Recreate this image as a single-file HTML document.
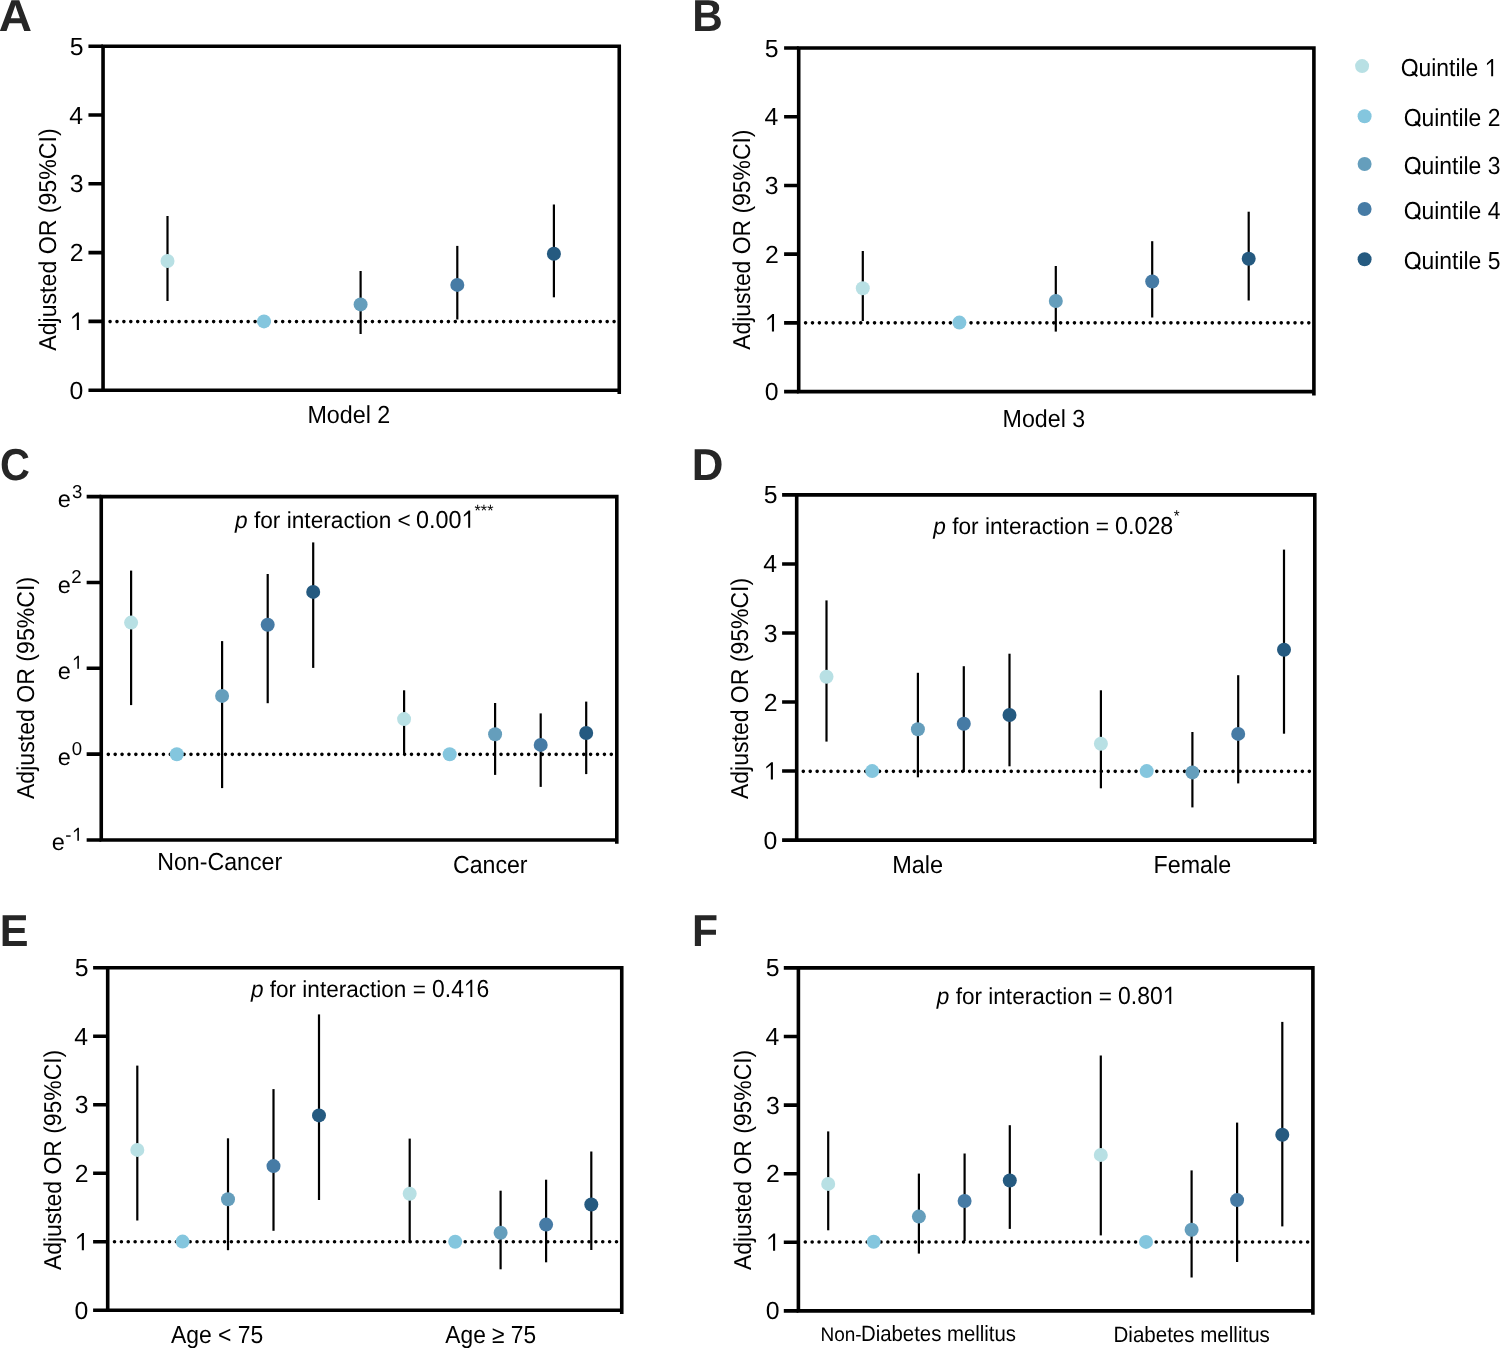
<!DOCTYPE html>
<html><head><meta charset="utf-8"><style>html,body{margin:0;padding:0;background:#fff;}svg{display:block;will-change:transform;text-rendering:geometricPrecision}</style></head>
<body><svg width="1500" height="1348" viewBox="0 0 1500 1348">
<rect width="1500" height="1348" fill="#fff"/>
<path d="M101.25 46.20H621.05M619.25 44.40V394.00M101.25 390.20H621.05M103.05 44.40V392.00" stroke="#000" stroke-width="3.6" fill="none"/>
<path d="M88.45 390.20H103.05M88.45 321.40H103.05M88.45 252.60H103.05M88.45 183.80H103.05M88.45 115.00H103.05M88.45 46.20H103.05" stroke="#000" stroke-width="3.6" fill="none"/>
<text x="69.58" y="398.73" style="font-family:&quot;Liberation Sans&quot;,sans-serif;font-size:24.80px" fill="#000">0</text>
<polygon points="76.82,329.93 78.93,329.93 78.93,312.60 77.27,312.60 72.23,316.99 72.23,318.90 76.82,315.42" fill="#000"/>
<text x="69.85" y="261.13" style="font-family:&quot;Liberation Sans&quot;,sans-serif;font-size:24.80px" fill="#000">2</text>
<text x="69.70" y="192.33" style="font-family:&quot;Liberation Sans&quot;,sans-serif;font-size:24.80px" fill="#000">3</text>
<text x="69.33" y="123.53" style="font-family:&quot;Liberation Sans&quot;,sans-serif;font-size:24.80px" fill="#000">4</text>
<text x="69.65" y="54.73" style="font-family:&quot;Liberation Sans&quot;,sans-serif;font-size:24.80px" fill="#000">5</text>
<path d="M110.08 321.60H614.15" stroke="#000" stroke-width="3.6" stroke-linecap="round" stroke-dasharray="0 6.9044" fill="none"/>
<path d="M167.50 216.00V301.00" stroke="#000" stroke-width="2.2" fill="none"/>
<path d="M360.60 271.00V334.00" stroke="#000" stroke-width="2.2" fill="none"/>
<path d="M457.30 245.90V319.50" stroke="#000" stroke-width="2.2" fill="none"/>
<path d="M553.90 204.50V297.30" stroke="#000" stroke-width="2.2" fill="none"/>
<circle cx="167.50" cy="261.00" r="7.0" fill="#B8E0E4"/>
<circle cx="264.00" cy="321.40" r="7.0" fill="#84C6DE"/>
<circle cx="360.60" cy="304.40" r="7.0" fill="#659EBC"/>
<circle cx="457.30" cy="284.90" r="7.0" fill="#467BA5"/>
<circle cx="553.90" cy="253.75" r="7.0" fill="#255A80"/>
<text x="307.39" y="422.90" style="font-family:&quot;Liberation Sans&quot;,sans-serif;font-size:24.60px;" fill="#000" textLength="82.89" lengthAdjust="spacingAndGlyphs">Model 2</text>
<text transform="rotate(-90)" x="-350.75" y="56.00" style="font-family:&quot;Liberation Sans&quot;,sans-serif;font-size:24.40px;" fill="#000" textLength="222.38" lengthAdjust="spacingAndGlyphs">Adjusted OR (95%CI)</text>
<text x="-1.15" y="30.70" style="font-family:&quot;Liberation Sans&quot;,sans-serif;font-weight:bold;font-size:44.60px;" fill="#262626" textLength="33.26" lengthAdjust="spacingAndGlyphs">A</text>
<path d="M796.90 48.00H1315.70M1313.90 46.20V395.40M796.90 391.60H1315.70M798.70 46.20V393.40" stroke="#000" stroke-width="3.6" fill="none"/>
<path d="M784.10 391.60H798.70M784.10 322.88H798.70M784.10 254.16H798.70M784.10 185.44H798.70M784.10 116.72H798.70M784.10 48.00H798.70" stroke="#000" stroke-width="3.6" fill="none"/>
<text x="764.68" y="400.13" style="font-family:&quot;Liberation Sans&quot;,sans-serif;font-size:24.80px" fill="#000">0</text>
<polygon points="771.92,331.41 774.03,331.41 774.03,314.08 772.37,314.08 767.33,318.47 767.33,320.38 771.92,316.90" fill="#000"/>
<text x="764.95" y="262.69" style="font-family:&quot;Liberation Sans&quot;,sans-serif;font-size:24.80px" fill="#000">2</text>
<text x="764.80" y="193.97" style="font-family:&quot;Liberation Sans&quot;,sans-serif;font-size:24.80px" fill="#000">3</text>
<text x="764.43" y="125.25" style="font-family:&quot;Liberation Sans&quot;,sans-serif;font-size:24.80px" fill="#000">4</text>
<text x="764.75" y="56.53" style="font-family:&quot;Liberation Sans&quot;,sans-serif;font-size:24.80px" fill="#000">5</text>
<path d="M805.60 322.83H1308.85" stroke="#000" stroke-width="3.6" stroke-linecap="round" stroke-dasharray="0 6.8932" fill="none"/>
<path d="M862.80 251.00V321.00" stroke="#000" stroke-width="2.2" fill="none"/>
<path d="M1055.80 266.00V331.60" stroke="#000" stroke-width="2.2" fill="none"/>
<path d="M1152.20 241.20V317.50" stroke="#000" stroke-width="2.2" fill="none"/>
<path d="M1248.70 211.70V300.50" stroke="#000" stroke-width="2.2" fill="none"/>
<circle cx="862.80" cy="288.20" r="7.0" fill="#B8E0E4"/>
<circle cx="959.40" cy="322.60" r="7.0" fill="#84C6DE"/>
<circle cx="1055.80" cy="301.00" r="7.0" fill="#659EBC"/>
<circle cx="1152.20" cy="281.50" r="7.0" fill="#467BA5"/>
<circle cx="1248.70" cy="258.70" r="7.0" fill="#255A80"/>
<text x="1002.60" y="426.80" style="font-family:&quot;Liberation Sans&quot;,sans-serif;font-size:24.60px;" fill="#000" textLength="82.64" lengthAdjust="spacingAndGlyphs">Model 3</text>
<text transform="rotate(-90)" x="-349.75" y="749.90" style="font-family:&quot;Liberation Sans&quot;,sans-serif;font-size:24.40px;" fill="#000" textLength="220.16" lengthAdjust="spacingAndGlyphs">Adjusted OR (95%CI)</text>
<text x="692.37" y="30.70" style="font-family:&quot;Liberation Sans&quot;,sans-serif;font-weight:bold;font-size:44.60px;" fill="#262626" textLength="30.54" lengthAdjust="spacingAndGlyphs">B</text>
<circle cx="1362.1" cy="66.1" r="7.0" fill="#B8E0E4"/>
<polygon points="1491.18,76.20 1493.13,76.20 1493.13,59.00 1491.59,59.00 1486.95,63.36 1486.95,65.25 1491.18,61.81" fill="#000"/>
<path d="M1412.17 71.82L1417.26 76.30" stroke="#000" stroke-width="2.12" fill="none"/>
<text x="1400.72" y="76.20" style="font-family:&quot;Liberation Sans&quot;,sans-serif;font-size:24.60px;" fill="#000" textLength="96.74" lengthAdjust="spacingAndGlyphs">Ouintile  </text>
<circle cx="1364.6" cy="116.2" r="7.0" fill="#84C6DE"/>
<path d="M1415.17 121.62L1420.26 126.10" stroke="#000" stroke-width="2.12" fill="none"/>
<text x="1403.72" y="126.00" style="font-family:&quot;Liberation Sans&quot;,sans-serif;font-size:24.60px;" fill="#000" textLength="96.74" lengthAdjust="spacingAndGlyphs">Ouintile 2</text>
<circle cx="1364.6" cy="164.0" r="7.0" fill="#659EBC"/>
<path d="M1415.17 169.62L1420.26 174.10" stroke="#000" stroke-width="2.12" fill="none"/>
<text x="1403.72" y="174.00" style="font-family:&quot;Liberation Sans&quot;,sans-serif;font-size:24.60px;" fill="#000" textLength="96.74" lengthAdjust="spacingAndGlyphs">Ouintile 3</text>
<circle cx="1364.6" cy="209.0" r="7.0" fill="#467BA5"/>
<path d="M1415.17 214.82L1420.26 219.30" stroke="#000" stroke-width="2.12" fill="none"/>
<text x="1403.72" y="219.20" style="font-family:&quot;Liberation Sans&quot;,sans-serif;font-size:24.60px;" fill="#000" textLength="96.74" lengthAdjust="spacingAndGlyphs">Ouintile 4</text>
<circle cx="1364.6" cy="259.2" r="7.0" fill="#255A80"/>
<path d="M1415.17 264.82L1420.26 269.30" stroke="#000" stroke-width="2.12" fill="none"/>
<text x="1403.72" y="269.20" style="font-family:&quot;Liberation Sans&quot;,sans-serif;font-size:24.60px;" fill="#000" textLength="96.74" lengthAdjust="spacingAndGlyphs">Ouintile 5</text>
<path d="M99.45 496.60H618.60M616.80 494.80V843.80M99.45 840.00H618.60M101.25 494.80V841.80" stroke="#000" stroke-width="3.6" fill="none"/>
<path d="M86.65 840.00H101.25M86.65 754.15H101.25M86.65 668.30H101.25M86.65 582.45H101.25M86.65 496.60H101.25" stroke="#000" stroke-width="3.6" fill="none"/>
<text x="51.81" y="849.90" style="font-family:&quot;Liberation Sans&quot;,sans-serif;font-size:23.50px;" fill="#000">e</text>
<text x="65.28" y="840.80" style="font-family:&quot;Liberation Sans&quot;,sans-serif;font-size:18.60px;" fill="#000">-</text>
<polygon points="77.34,840.80 78.92,840.80 78.92,827.80 77.68,827.80 73.90,831.09 73.90,832.52 77.34,829.92" fill="#000"/>
<text x="57.86" y="764.95" style="font-family:&quot;Liberation Sans&quot;,sans-serif;font-size:23.50px;" fill="#000">e</text>
<text x="71.87" y="754.85" style="font-family:&quot;Liberation Sans&quot;,sans-serif;font-size:18.60px;" fill="#000">0</text>
<text x="57.86" y="678.70" style="font-family:&quot;Liberation Sans&quot;,sans-serif;font-size:23.50px;" fill="#000">e</text>
<polygon points="77.33,668.80 78.91,668.80 78.91,655.80 77.67,655.80 73.89,659.09 73.89,660.52 77.33,657.92" fill="#000"/>
<text x="72.09" y="668.80" style="font-family:&quot;Liberation Sans&quot;,sans-serif;font-size:18.60px;" fill="#000"> </text>
<text x="57.81" y="592.55" style="font-family:&quot;Liberation Sans&quot;,sans-serif;font-size:23.50px;" fill="#000">e</text>
<text x="71.37" y="582.65" style="font-family:&quot;Liberation Sans&quot;,sans-serif;font-size:18.60px;" fill="#000">2</text>
<text x="57.81" y="507.00" style="font-family:&quot;Liberation Sans&quot;,sans-serif;font-size:23.50px;" fill="#000">e</text>
<text x="72.09" y="497.50" style="font-family:&quot;Liberation Sans&quot;,sans-serif;font-size:18.60px;" fill="#000">3</text>
<path d="M108.30 754.33H611.35" stroke="#000" stroke-width="3.6" stroke-linecap="round" stroke-dasharray="0 6.8904" fill="none"/>
<path d="M131.10 570.60V705.10" stroke="#000" stroke-width="2.2" fill="none"/>
<path d="M222.10 641.10V788.10" stroke="#000" stroke-width="2.2" fill="none"/>
<path d="M267.70 574.00V703.20" stroke="#000" stroke-width="2.2" fill="none"/>
<path d="M313.20 542.40V667.90" stroke="#000" stroke-width="2.2" fill="none"/>
<circle cx="131.10" cy="622.60" r="7.0" fill="#B8E0E4"/>
<circle cx="176.80" cy="754.30" r="7.0" fill="#84C6DE"/>
<circle cx="222.10" cy="695.90" r="7.0" fill="#659EBC"/>
<circle cx="267.70" cy="624.70" r="7.0" fill="#467BA5"/>
<circle cx="313.20" cy="591.90" r="7.0" fill="#255A80"/>
<path d="M404.10 690.30V754.50" stroke="#000" stroke-width="2.2" fill="none"/>
<path d="M495.10 703.00V774.90" stroke="#000" stroke-width="2.2" fill="none"/>
<path d="M540.70 713.40V786.90" stroke="#000" stroke-width="2.2" fill="none"/>
<path d="M586.20 701.60V774.10" stroke="#000" stroke-width="2.2" fill="none"/>
<circle cx="404.10" cy="719.10" r="7.0" fill="#B8E0E4"/>
<circle cx="449.70" cy="754.20" r="7.0" fill="#84C6DE"/>
<circle cx="495.10" cy="734.20" r="7.0" fill="#659EBC"/>
<circle cx="540.70" cy="744.90" r="7.0" fill="#467BA5"/>
<circle cx="586.20" cy="733.00" r="7.0" fill="#255A80"/>
<text x="157.20" y="870.00" style="font-family:&quot;Liberation Sans&quot;,sans-serif;font-size:24.60px;" fill="#000" textLength="125.00" lengthAdjust="spacingAndGlyphs">Non-Cancer</text>
<text x="452.92" y="873.30" style="font-family:&quot;Liberation Sans&quot;,sans-serif;font-size:24.60px;" fill="#000" textLength="74.67" lengthAdjust="spacingAndGlyphs">Cancer</text>
<text transform="rotate(-90)" x="-799.05" y="34.10" style="font-family:&quot;Liberation Sans&quot;,sans-serif;font-size:24.40px;" fill="#000" textLength="222.17" lengthAdjust="spacingAndGlyphs">Adjusted OR (95%CI)</text>
<text x="0.00" y="480.00" style="font-family:&quot;Liberation Sans&quot;,sans-serif;font-weight:bold;font-size:44.60px;" fill="#262626" textLength="29.92" lengthAdjust="spacingAndGlyphs">C</text>
<path d="M794.90 494.90H1316.60M1314.80 493.10V843.90M794.90 840.10H1316.60M796.70 493.10V841.90" stroke="#000" stroke-width="3.6" fill="none"/>
<path d="M782.10 840.10H796.70M782.10 771.06H796.70M782.10 702.02H796.70M782.10 632.98H796.70M782.10 563.94H796.70M782.10 494.90H796.70" stroke="#000" stroke-width="3.6" fill="none"/>
<text x="763.58" y="848.63" style="font-family:&quot;Liberation Sans&quot;,sans-serif;font-size:24.80px" fill="#000">0</text>
<polygon points="770.82,779.59 772.93,779.59 772.93,762.26 771.27,762.26 766.23,766.65 766.23,768.56 770.82,765.08" fill="#000"/>
<text x="763.85" y="710.55" style="font-family:&quot;Liberation Sans&quot;,sans-serif;font-size:24.80px" fill="#000">2</text>
<text x="763.70" y="641.51" style="font-family:&quot;Liberation Sans&quot;,sans-serif;font-size:24.80px" fill="#000">3</text>
<text x="763.33" y="572.47" style="font-family:&quot;Liberation Sans&quot;,sans-serif;font-size:24.80px" fill="#000">4</text>
<text x="763.65" y="503.43" style="font-family:&quot;Liberation Sans&quot;,sans-serif;font-size:24.80px" fill="#000">5</text>
<path d="M803.30 771.33H1309.35" stroke="#000" stroke-width="3.6" stroke-linecap="round" stroke-dasharray="0 6.9315" fill="none"/>
<path d="M826.50 600.40V741.60" stroke="#000" stroke-width="2.2" fill="none"/>
<path d="M917.90 672.80V777.30" stroke="#000" stroke-width="2.2" fill="none"/>
<path d="M963.80 666.20V772.10" stroke="#000" stroke-width="2.2" fill="none"/>
<path d="M1009.50 653.70V766.30" stroke="#000" stroke-width="2.2" fill="none"/>
<circle cx="826.50" cy="676.80" r="7.0" fill="#B8E0E4"/>
<circle cx="872.20" cy="771.10" r="7.0" fill="#84C6DE"/>
<circle cx="917.90" cy="729.30" r="7.0" fill="#659EBC"/>
<circle cx="963.80" cy="723.70" r="7.0" fill="#467BA5"/>
<circle cx="1009.50" cy="715.00" r="7.0" fill="#255A80"/>
<path d="M1100.90 690.30V788.30" stroke="#000" stroke-width="2.2" fill="none"/>
<path d="M1192.40 732.00V807.40" stroke="#000" stroke-width="2.2" fill="none"/>
<path d="M1238.20 675.20V783.40" stroke="#000" stroke-width="2.2" fill="none"/>
<path d="M1284.00 549.60V733.70" stroke="#000" stroke-width="2.2" fill="none"/>
<circle cx="1100.90" cy="743.70" r="7.0" fill="#B8E0E4"/>
<circle cx="1146.70" cy="771.10" r="7.0" fill="#84C6DE"/>
<circle cx="1192.40" cy="772.40" r="7.0" fill="#659EBC"/>
<circle cx="1238.20" cy="733.90" r="7.0" fill="#467BA5"/>
<circle cx="1284.00" cy="649.70" r="7.0" fill="#255A80"/>
<text x="892.17" y="873.30" style="font-family:&quot;Liberation Sans&quot;,sans-serif;font-size:24.60px;" fill="#000" textLength="50.98" lengthAdjust="spacingAndGlyphs">Male</text>
<text x="1153.59" y="873.30" style="font-family:&quot;Liberation Sans&quot;,sans-serif;font-size:24.60px;" fill="#000" textLength="77.54" lengthAdjust="spacingAndGlyphs">Female</text>
<text transform="rotate(-90)" x="-799.05" y="748.00" style="font-family:&quot;Liberation Sans&quot;,sans-serif;font-size:24.40px;" fill="#000" textLength="221.17" lengthAdjust="spacingAndGlyphs">Adjusted OR (95%CI)</text>
<text x="691.76" y="479.90" style="font-family:&quot;Liberation Sans&quot;,sans-serif;font-weight:bold;font-size:44.60px;" fill="#262626" textLength="31.69" lengthAdjust="spacingAndGlyphs">D</text>
<path d="M105.90 967.70H623.55M621.75 965.90V1314.00M105.90 1310.20H623.55M107.70 965.90V1312.00" stroke="#000" stroke-width="3.6" fill="none"/>
<path d="M93.10 1310.20H107.70M93.10 1241.70H107.70M93.10 1173.20H107.70M93.10 1104.70H107.70M93.10 1036.20H107.70M93.10 967.70H107.70" stroke="#000" stroke-width="3.6" fill="none"/>
<text x="74.58" y="1318.73" style="font-family:&quot;Liberation Sans&quot;,sans-serif;font-size:24.80px" fill="#000">0</text>
<polygon points="81.82,1250.23 83.93,1250.23 83.93,1232.90 82.27,1232.90 77.23,1237.29 77.23,1239.20 81.82,1235.72" fill="#000"/>
<text x="74.85" y="1181.73" style="font-family:&quot;Liberation Sans&quot;,sans-serif;font-size:24.80px" fill="#000">2</text>
<text x="74.70" y="1113.23" style="font-family:&quot;Liberation Sans&quot;,sans-serif;font-size:24.80px" fill="#000">3</text>
<text x="74.33" y="1044.73" style="font-family:&quot;Liberation Sans&quot;,sans-serif;font-size:24.80px" fill="#000">4</text>
<text x="74.65" y="976.23" style="font-family:&quot;Liberation Sans&quot;,sans-serif;font-size:24.80px" fill="#000">5</text>
<path d="M114.50 1241.80H616.55" stroke="#000" stroke-width="3.6" stroke-linecap="round" stroke-dasharray="0 6.8767" fill="none"/>
<path d="M137.30 1065.60V1220.50" stroke="#000" stroke-width="2.2" fill="none"/>
<path d="M228.00 1138.30V1250.20" stroke="#000" stroke-width="2.2" fill="none"/>
<path d="M273.50 1089.10V1230.80" stroke="#000" stroke-width="2.2" fill="none"/>
<path d="M319.00 1014.40V1200.00" stroke="#000" stroke-width="2.2" fill="none"/>
<circle cx="137.30" cy="1149.90" r="7.0" fill="#B8E0E4"/>
<circle cx="182.60" cy="1241.60" r="7.0" fill="#84C6DE"/>
<circle cx="228.00" cy="1199.30" r="7.0" fill="#659EBC"/>
<circle cx="273.50" cy="1166.10" r="7.0" fill="#467BA5"/>
<circle cx="319.00" cy="1115.40" r="7.0" fill="#255A80"/>
<path d="M409.70 1138.60V1241.70" stroke="#000" stroke-width="2.2" fill="none"/>
<path d="M500.60 1190.70V1269.30" stroke="#000" stroke-width="2.2" fill="none"/>
<path d="M546.10 1179.70V1262.30" stroke="#000" stroke-width="2.2" fill="none"/>
<path d="M591.30 1151.50V1250.00" stroke="#000" stroke-width="2.2" fill="none"/>
<circle cx="409.70" cy="1193.80" r="7.0" fill="#B8E0E4"/>
<circle cx="455.20" cy="1241.70" r="7.0" fill="#84C6DE"/>
<circle cx="500.60" cy="1232.80" r="7.0" fill="#659EBC"/>
<circle cx="546.10" cy="1224.60" r="7.0" fill="#467BA5"/>
<circle cx="591.30" cy="1204.50" r="7.0" fill="#255A80"/>
<text x="170.95" y="1342.80" style="font-family:&quot;Liberation Sans&quot;,sans-serif;font-size:24.60px;" fill="#000" textLength="92.41" lengthAdjust="spacingAndGlyphs">Age &lt; 75</text>
<text x="445.35" y="1342.50" style="font-family:&quot;Liberation Sans&quot;,sans-serif;font-size:24.60px;" fill="#000" textLength="90.80" lengthAdjust="spacingAndGlyphs">Age ≥ 75</text>
<text transform="rotate(-90)" x="-1270.05" y="60.80" style="font-family:&quot;Liberation Sans&quot;,sans-serif;font-size:24.40px;" fill="#000" textLength="220.26" lengthAdjust="spacingAndGlyphs">Adjusted OR (95%CI)</text>
<text x="-0.29" y="946.20" style="font-family:&quot;Liberation Sans&quot;,sans-serif;font-weight:bold;font-size:44.60px;" fill="#262626" textLength="28.77" lengthAdjust="spacingAndGlyphs">E</text>
<path d="M796.60 967.90H1314.70M1312.90 966.10V1314.70M796.60 1310.90H1314.70M798.40 966.10V1312.70" stroke="#000" stroke-width="3.6" fill="none"/>
<path d="M783.80 1310.90H798.40M783.80 1242.30H798.40M783.80 1173.70H798.40M783.80 1105.10H798.40M783.80 1036.50H798.40M783.80 967.90H798.40" stroke="#000" stroke-width="3.6" fill="none"/>
<text x="765.78" y="1319.43" style="font-family:&quot;Liberation Sans&quot;,sans-serif;font-size:24.80px" fill="#000">0</text>
<polygon points="773.02,1250.83 775.13,1250.83 775.13,1233.50 773.47,1233.50 768.43,1237.89 768.43,1239.80 773.02,1236.32" fill="#000"/>
<text x="766.05" y="1182.23" style="font-family:&quot;Liberation Sans&quot;,sans-serif;font-size:24.80px" fill="#000">2</text>
<text x="765.90" y="1113.63" style="font-family:&quot;Liberation Sans&quot;,sans-serif;font-size:24.80px" fill="#000">3</text>
<text x="765.53" y="1045.03" style="font-family:&quot;Liberation Sans&quot;,sans-serif;font-size:24.80px" fill="#000">4</text>
<text x="765.85" y="976.43" style="font-family:&quot;Liberation Sans&quot;,sans-serif;font-size:24.80px" fill="#000">5</text>
<path d="M805.30 1242.00H1307.65" stroke="#000" stroke-width="3.6" stroke-linecap="round" stroke-dasharray="0 6.8808" fill="none"/>
<path d="M828.20 1131.40V1230.30" stroke="#000" stroke-width="2.2" fill="none"/>
<path d="M918.90 1173.60V1253.60" stroke="#000" stroke-width="2.2" fill="none"/>
<path d="M964.60 1153.50V1241.00" stroke="#000" stroke-width="2.2" fill="none"/>
<path d="M1009.80 1125.20V1228.90" stroke="#000" stroke-width="2.2" fill="none"/>
<circle cx="828.20" cy="1183.90" r="7.0" fill="#B8E0E4"/>
<circle cx="873.70" cy="1241.70" r="7.0" fill="#84C6DE"/>
<circle cx="918.90" cy="1216.60" r="7.0" fill="#659EBC"/>
<circle cx="964.60" cy="1201.00" r="7.0" fill="#467BA5"/>
<circle cx="1009.80" cy="1180.50" r="7.0" fill="#255A80"/>
<path d="M1100.80 1055.50V1235.40" stroke="#000" stroke-width="2.2" fill="none"/>
<path d="M1191.60 1170.40V1277.50" stroke="#000" stroke-width="2.2" fill="none"/>
<path d="M1237.10 1122.60V1262.00" stroke="#000" stroke-width="2.2" fill="none"/>
<path d="M1282.30 1021.90V1226.40" stroke="#000" stroke-width="2.2" fill="none"/>
<circle cx="1100.80" cy="1154.90" r="7.0" fill="#B8E0E4"/>
<circle cx="1146.00" cy="1241.90" r="7.0" fill="#84C6DE"/>
<circle cx="1191.60" cy="1229.70" r="7.0" fill="#659EBC"/>
<circle cx="1237.10" cy="1200.10" r="7.0" fill="#467BA5"/>
<circle cx="1282.30" cy="1134.70" r="7.0" fill="#255A80"/>
<text x="820.44" y="1340.80" style="font-family:&quot;Liberation Sans&quot;,sans-serif;font-size:19.80px;" fill="#000" textLength="41.20" lengthAdjust="spacingAndGlyphs">Non-</text>
<text x="860.93" y="1340.80" style="font-family:&quot;Liberation Sans&quot;,sans-serif;font-size:22.00px;" fill="#000" textLength="155.11" lengthAdjust="spacingAndGlyphs">Diabetes mellitus</text>
<text x="1113.52" y="1341.80" style="font-family:&quot;Liberation Sans&quot;,sans-serif;font-size:22.00px;" fill="#000" textLength="156.33" lengthAdjust="spacingAndGlyphs">Diabetes mellitus</text>
<text transform="rotate(-90)" x="-1270.05" y="751.00" style="font-family:&quot;Liberation Sans&quot;,sans-serif;font-size:24.40px;" fill="#000" textLength="220.26" lengthAdjust="spacingAndGlyphs">Adjusted OR (95%CI)</text>
<text x="691.95" y="946.20" style="font-family:&quot;Liberation Sans&quot;,sans-serif;font-weight:bold;font-size:44.60px;" fill="#262626" textLength="26.02" lengthAdjust="spacingAndGlyphs">F</text>
<text x="235.07" y="527.80" style="font-family:&quot;Liberation Sans&quot;,sans-serif;font-style:italic;font-size:23.10px" fill="#000" textLength="12.61" lengthAdjust="spacingAndGlyphs">p</text>
<text x="253.97" y="527.80" style="font-family:&quot;Liberation Sans&quot;,sans-serif;font-size:23.10px" fill="#000" textLength="156.85" lengthAdjust="spacingAndGlyphs">for interaction &lt;</text>
<polygon points="468.19,527.80 470.18,527.80 470.18,510.60 468.61,510.60 463.86,514.96 463.86,516.85 468.19,513.41" fill="#000"/>
<text x="416.09" y="527.80" style="font-family:&quot;Liberation Sans&quot;,sans-serif;font-size:24.60px;" fill="#000" textLength="58.51" lengthAdjust="spacingAndGlyphs">0.00 </text>
<text x="474.54" y="515.95" style="font-family:&quot;Liberation Sans&quot;,sans-serif;font-size:16.20px;" fill="#000">***</text>
<text x="933.27" y="534.00" style="font-family:&quot;Liberation Sans&quot;,sans-serif;font-style:italic;font-size:23.10px" fill="#000" textLength="12.61" lengthAdjust="spacingAndGlyphs">p</text>
<text x="952.18" y="534.00" style="font-family:&quot;Liberation Sans&quot;,sans-serif;font-size:23.10px" fill="#000" textLength="156.94" lengthAdjust="spacingAndGlyphs">for interaction =</text>
<text x="1114.99" y="534.05" style="font-family:&quot;Liberation Sans&quot;,sans-serif;font-size:24.60px;" fill="#000" textLength="58.32" lengthAdjust="spacingAndGlyphs">0.028</text>
<text x="1173.66" y="521.46" style="font-family:&quot;Liberation Sans&quot;,sans-serif;font-size:15.50px;" fill="#000" textLength="5.89" lengthAdjust="spacingAndGlyphs">*</text>
<text x="250.96" y="997.00" style="font-family:&quot;Liberation Sans&quot;,sans-serif;font-style:italic;font-size:23.10px" fill="#000" textLength="12.54" lengthAdjust="spacingAndGlyphs">p</text>
<text x="269.77" y="997.00" style="font-family:&quot;Liberation Sans&quot;,sans-serif;font-size:23.10px" fill="#000" textLength="156.05" lengthAdjust="spacingAndGlyphs">for interaction =</text>
<polygon points="470.33,997.00 472.28,997.00 472.28,979.80 470.75,979.80 466.11,984.16 466.11,986.05 470.33,982.61" fill="#000"/>
<text x="432.11" y="997.00" style="font-family:&quot;Liberation Sans&quot;,sans-serif;font-size:24.60px;" fill="#000" textLength="57.21" lengthAdjust="spacingAndGlyphs">0.4 6</text>
<text x="936.86" y="1004.00" style="font-family:&quot;Liberation Sans&quot;,sans-serif;font-style:italic;font-size:23.10px" fill="#000" textLength="12.55" lengthAdjust="spacingAndGlyphs">p</text>
<text x="955.69" y="1004.00" style="font-family:&quot;Liberation Sans&quot;,sans-serif;font-size:23.10px" fill="#000" textLength="156.22" lengthAdjust="spacingAndGlyphs">for interaction =</text>
<polygon points="1169.28,1004.00 1171.24,1004.00 1171.24,986.80 1169.70,986.80 1165.03,991.16 1165.03,993.05 1169.28,989.61" fill="#000"/>
<text x="1118.10" y="1004.00" style="font-family:&quot;Liberation Sans&quot;,sans-serif;font-size:24.60px;" fill="#000" textLength="57.48" lengthAdjust="spacingAndGlyphs">0.80 </text>
</svg></body></html>
